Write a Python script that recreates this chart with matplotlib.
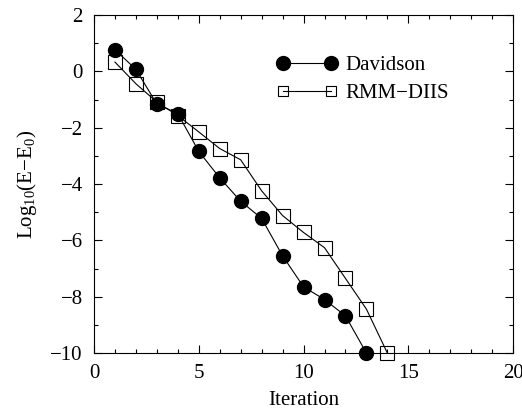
import matplotlib
matplotlib.use('Agg')
import matplotlib.pyplot as plt
from matplotlib.ticker import MultipleLocator

plt.rcParams['font.family'] = ['Liberation Serif', 'DejaVu Serif']
plt.rcParams['mathtext.fontset'] = 'custom'
plt.rcParams['mathtext.rm'] = 'Liberation Serif'
plt.rcParams['mathtext.it'] = 'Liberation Serif:italic'

iter_dav = [1, 2, 3, 4, 5, 6, 7, 8, 9, 10, 11, 12, 13]
log_dav = [0.77, 0.07, -1.16, -1.5, -2.84, -3.78, -4.61, -5.22, -6.55, -7.65, -8.1, -8.68, -10.0]

iter_rmm = [1, 2, 3, 4, 5, 6, 7, 8, 9, 10, 11, 12, 13, 14]
log_rmm = [0.33, -0.44, -1.09, -1.57, -2.15, -2.74, -3.14, -4.24, -5.12, -5.72, -6.26, -7.35, -8.44, -10.0]

fig = plt.figure(figsize=(5.22, 4.11), dpi=100)
ax = fig.add_axes([0.180, 0.141, 0.803, 0.8225])

ax.plot(iter_dav, log_dav, color='black', marker='o', markersize=10, linewidth=0.8,
        markerfacecolor='black', markeredgecolor='black', label='Davidson', clip_on=False, zorder=3)
ax.plot(iter_rmm, log_rmm, color='black', marker='s', markersize=9.5, linewidth=0.8,
        markerfacecolor='none', markeredgecolor='black', markeredgewidth=0.8,
        label='RMM\u2212DIIS', clip_on=False, zorder=3)

ax.set_xlim(0, 20)
ax.set_ylim(-10, 2)
ax.xaxis.set_major_locator(MultipleLocator(5))
ax.xaxis.set_minor_locator(MultipleLocator(1))
ax.yaxis.set_major_locator(MultipleLocator(2))
ax.yaxis.set_minor_locator(MultipleLocator(1))
ax.tick_params(which='both', direction='in', top=True, right=True, labelsize=15, width=0.8, pad=8)
ax.tick_params(which='major', length=6)
ax.tick_params(which='minor', length=3)
ax.set_yticks([2, 0, -2, -4, -6, -8, -10])
ax.set_yticklabels(['2', '0', '\u22122', '\u22124', '\u22126', '\u22128', '\u221210'])
for s in ax.spines.values():
    s.set_linewidth(0.8)

ax.set_xlabel('Iteration', fontsize=15, labelpad=6)
ax.set_ylabel(r'Log$_{10}$(E$-$E$_0$)', fontsize=15, labelpad=8)

leg = ax.legend(loc='upper left', bbox_to_anchor=(0.412, 0.911), frameon=False, numpoints=2,
                fontsize=15, handlelength=2.88, handletextpad=0.4, labelspacing=0.42, borderpad=0)
leg.legend_handles[1].set_markersize(7)

fig.savefig('out.png', dpi=100)
